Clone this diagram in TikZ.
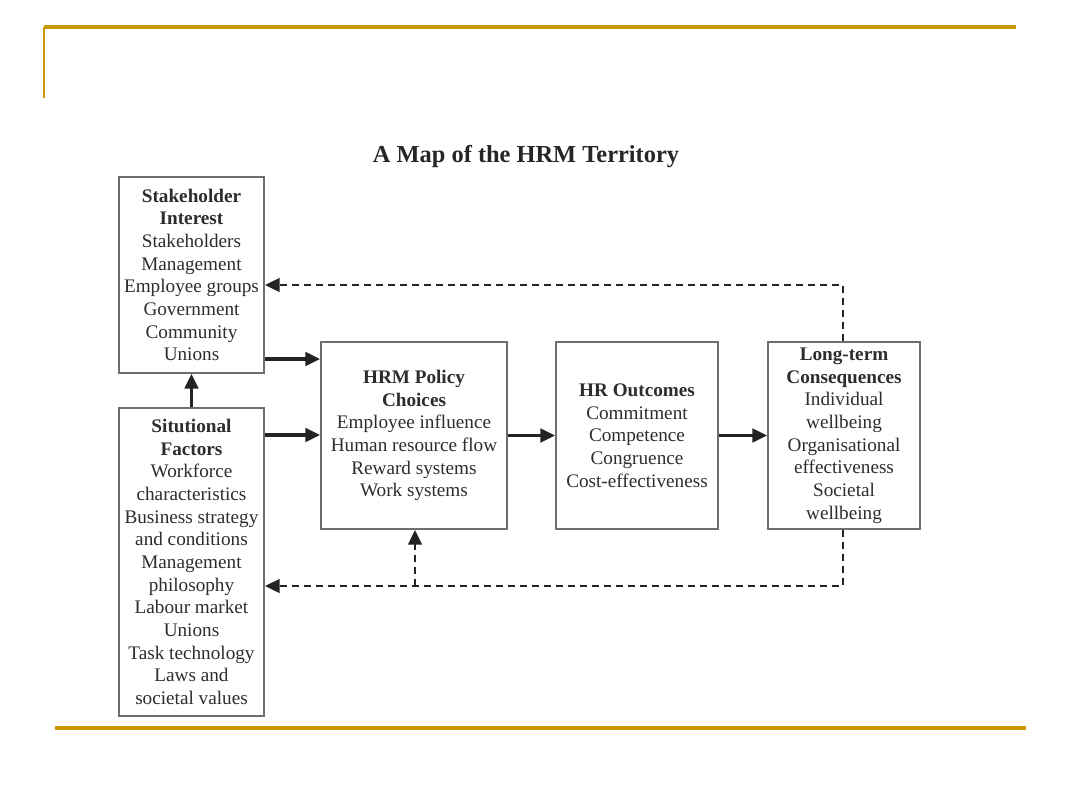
\documentclass[tikz,border=0pt]{standalone}
\usepackage{fontspec}
\setmainfont{Liberation Serif}
\usetikzlibrary{arrows.meta}
\definecolor{gold}{RGB}{204,153,0}
\definecolor{boxgray}{RGB}{110,110,110}
\definecolor{txtgray}{RGB}{45,45,45}
\definecolor{arrgray}{RGB}{35,35,35}
\tikzset{
  hbox/.style={draw=boxgray, line width=1.3pt, align=center, inner sep=0pt,
    text=txtgray, font=\fontsize{14.4}{17}\selectfont},
  arr/.style={draw=arrgray, line width=2.6pt, -{Triangle[length=11pt,width=10pt]}},
  darr/.style={draw=arrgray, line width=2.2pt, dash pattern=on 5pt off 4pt,
    -{Triangle[length=11pt,width=10pt]}},
  rule/.style={draw=gold, line width=2.3pt}
}
\begin{document}
\begin{tikzpicture}[x=0.75pt,y=-0.75pt]
\useasboundingbox[fill=white] (0,0) rectangle (1080,810);
% slide rules
\coordinate (tl) at (44,27);
\coordinate (tr) at (1016,27);
\coordinate (lb) at (44,98);
\coordinate (bl) at (55,728);
\coordinate (br) at (1026,728);
\draw[rule] (tl) -- (tr);
\draw[draw=gold, line width=1.7pt] (tl) -- (lb);
\draw[rule] (bl) -- (br);
% title
\node[font=\fontsize{18.3}{22}\selectfont\bfseries, text=black!85] (title) at (526,157) {A Map of the HRM Territory};
% boxes
\node[hbox, minimum width=108.75pt, minimum height=147pt] (SI) at (191.5,275)
  {\textbf{Stakeholder}\\\textbf{Interest}\\Stakeholders\\Management\\Employee groups\\Government\\Community\\Unions};
\node[hbox, minimum width=108.75pt, minimum height=231pt] (SF) at (191.5,562)
  {\textbf{Situtional}\\\textbf{Factors}\\Workforce\\characteristics\\Business strategy\\and conditions\\Management\\philosophy\\Labour market\\Unions\\Task technology\\Laws and\\societal values};
\node[hbox, minimum width=139.5pt, minimum height=140.25pt] (HRM) at (414,435.5)
  {\textbf{HRM Policy}\\\textbf{Choices}\\Employee influence\\Human resource flow\\Reward systems\\Work systems};
\node[hbox, minimum width=121.5pt, minimum height=140.25pt] (HR) at (637,435.5)
  {\textbf{HR Outcomes}\\Commitment\\Competence\\Congruence\\Cost-effectiveness};
\node[hbox, minimum width=114pt, minimum height=140.25pt] (LT) at (844,435.5)
  {\textbf{Long-term}\\\textbf{Consequences}\\Individual\\wellbeing\\Organisational\\effectiveness\\Societal\\wellbeing};
% solid arrows
\draw[arr] (SF.north) -- (SI.south);
\draw[arr] (SI.east |- 0,359) -- (HRM.west |- 0,359);
\draw[arr] (SF.east |- 0,435) -- (HRM.west |- 0,435);
\draw[arr] (HRM.east) -- (HR.west);
\draw[arr] (HR.east) -- (LT.west);
% dashed feedback
\coordinate (ftop) at (843,285);
\coordinate (fbot) at (843,586);
\coordinate (fj) at (415,586);
\draw[darr] (LT.north -| ftop) -- (ftop) -- (SI.east |- ftop);
\draw[darr] (LT.south -| fbot) -- (fbot) -- (SF.east |- fbot);
\draw[darr] (fj) -- (HRM.south -| fj);
\end{tikzpicture}
\end{document}
